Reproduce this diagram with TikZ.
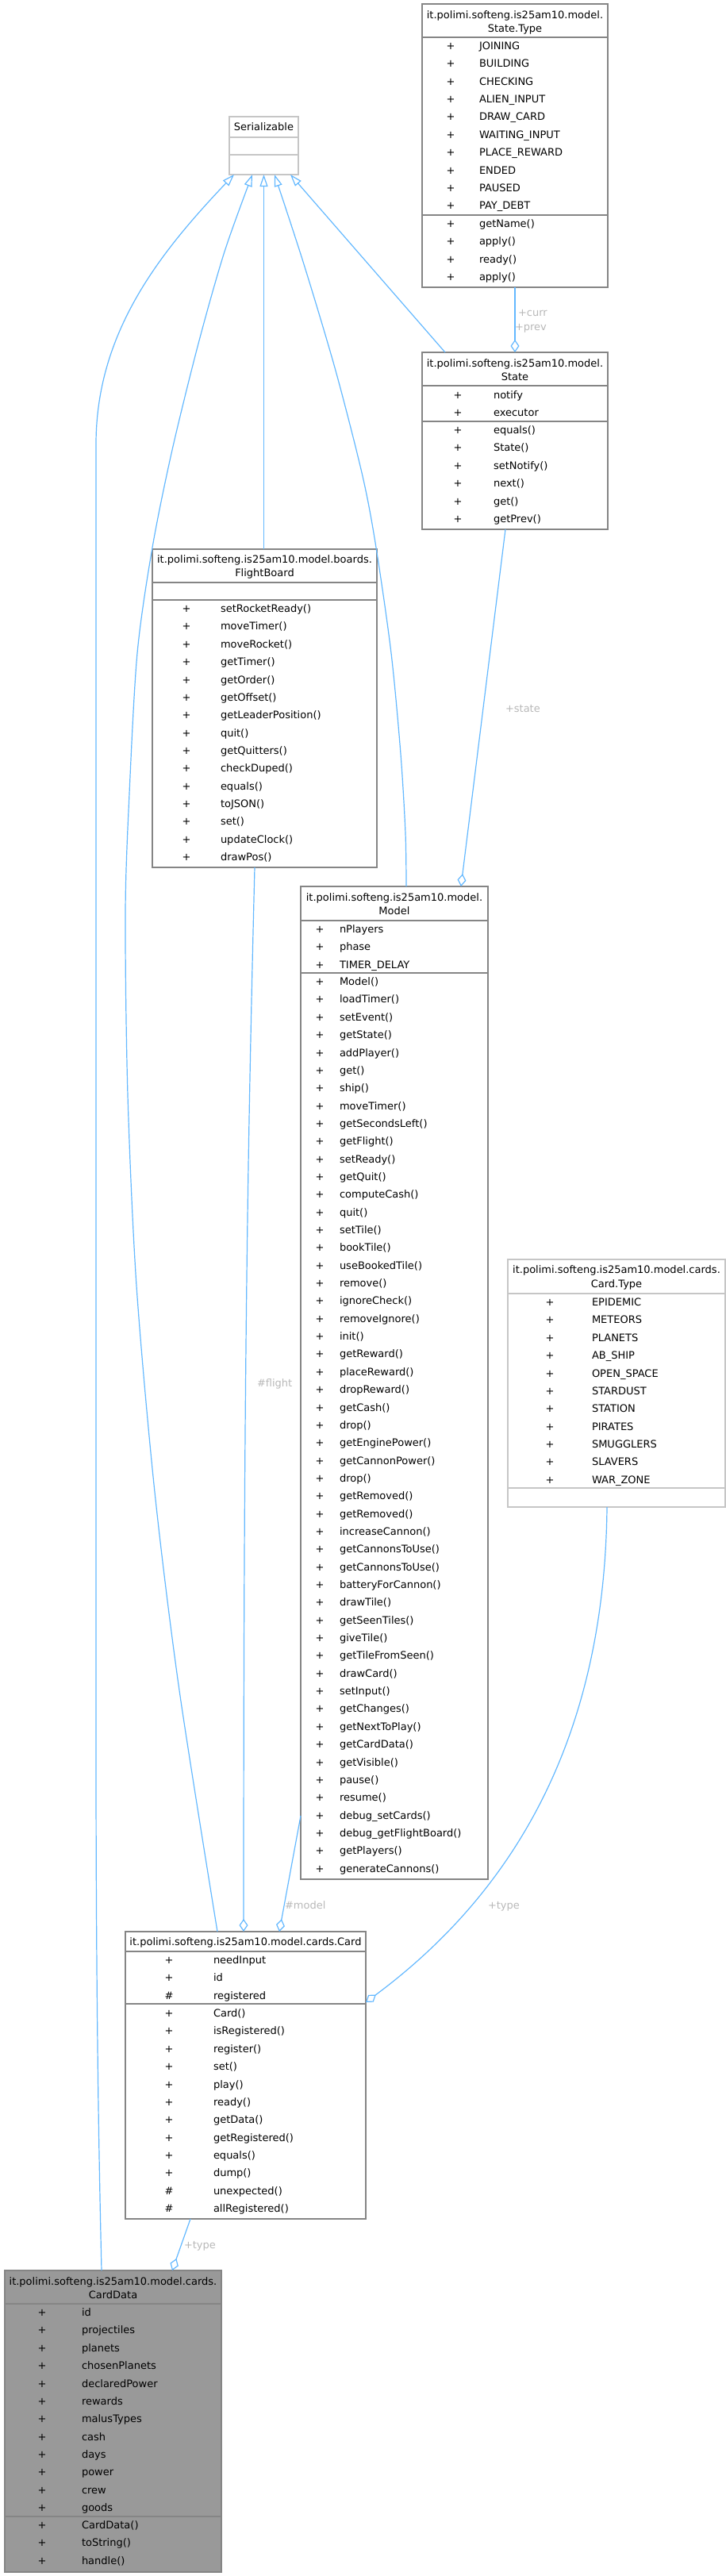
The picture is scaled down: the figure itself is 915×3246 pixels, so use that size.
\documentclass[tikz,border=0pt]{standalone}
\usepackage{fontspec}
\setmainfont{DejaVu Sans}
\usetikzlibrary{arrows.meta,calc}
\definecolor{edgeblue}{HTML}{63B8FF}
\definecolor{bordergray}{HTML}{858585}
\definecolor{lightborder}{HTML}{C6C6C6}
\definecolor{labelgray}{HTML}{B8B8B8}
\definecolor{focusfill}{HTML}{999999}
\tikzset{
  umlbox/.style={draw=bordergray, line width=1.6pt, fill=white, inner sep=0pt, outer sep=0pt, anchor=north west},
  extbox/.style={umlbox, draw=lightborder, line width=1.4pt},
  focusbox/.style={umlbox, fill=focusfill},
  sepline/.style={draw=bordergray, line width=1.6pt},
  lightsep/.style={draw=lightborder, line width=1.4pt},
  txt/.style={inner sep=0pt, outer sep=0pt, font=\fontsize{13}{15}\selectfont, text=black},
  lbl/.style={inner sep=0pt, outer sep=0pt, font=\fontsize{13}{15}\selectfont, text=labelgray, anchor=base west},
  inherit/.style={draw=edgeblue, line width=1.2pt, -{Triangle[open, length=15pt, width=10pt, fill=white]}},
  aggr/.style={draw=edgeblue, line width=1.2pt, -{Diamond[open, length=16pt, width=11pt, fill=white]}},
  plainedge/.style={draw=edgeblue, line width=1.2pt},
}
\newcommand\members[5]{%
  \foreach \vis/\nam [count=\i] in {#5} {
    \node[txt, anchor=base] (#1-v\i) at (#2, {#4+(\i-1)*22.35+4.6}) {\vis};
    \node[txt, anchor=base west] (#1-n\i) at (#3, {#4+(\i-1)*22.35+4.6}) {\nam};
  }%
}
\begin{document}
\begin{tikzpicture}[x=1pt, y=-1pt]
\useasboundingbox (0,0) rectangle (915,3246);

% ---------------- State.Type
\node[umlbox, minimum width=234pt, minimum height=357pt] (st) at (532,5) {};
\draw[sepline] (532,47) -- (766,47);
\draw[sepline] (532,271) -- (766,271);
\node[txt, anchor=base] (st-t1) at (649,23.6) {it.polimi.softeng.is25am10.model.};
\node[txt, anchor=base] (st-t2) at (649,40.6) {State.Type};
\members{st-a}{568}{604}{58}{+/JOINING,+/BUILDING,+/CHECKING,+/ALIEN\_INPUT,+/DRAW\_CARD,+/WAITING\_INPUT,+/PLACE\_REWARD,+/ENDED,+/PAUSED,+/PAY\_DEBT}
\members{st-m}{568}{604}{282}{+/getName(),+/apply(),+/ready(),+/apply()}

% ---------------- Serializable
\node[extbox, minimum width=87pt, minimum height=73pt] (ser) at (289,147) {};
\draw[lightsep] (289,173) -- (376,173);
\draw[lightsep] (289,195) -- (376,195);
\node[txt, anchor=base] (ser-t) at (332.5,164.6) {Serializable};

% ---------------- State
\node[umlbox, minimum width=234pt, minimum height=223pt] (state) at (532,444) {};
\draw[sepline] (532,486) -- (766,486);
\draw[sepline] (532,531) -- (766,531);
\node[txt, anchor=base] (state-t1) at (649,462.6) {it.polimi.softeng.is25am10.model.};
\node[txt, anchor=base] (state-t2) at (649,479.6) {State};
\members{state-a}{577}{622}{498}{+/notify,+/executor}
\members{state-m}{577}{622}{542}{+/equals(),+/State(),+/setNotify(),+/next(),+/get(),+/getPrev()}

% ---------------- FlightBoard
\node[umlbox, minimum width=283pt, minimum height=401pt] (fb) at (192,692) {};
\draw[sepline] (192,734) -- (475,734);
\draw[sepline] (192,756) -- (475,756);
\node[txt, anchor=base] (fb-t1) at (333.5,709.6) {it.polimi.softeng.is25am10.model.boards.};
\node[txt, anchor=base] (fb-t2) at (333.5,726.6) {FlightBoard};
\members{fb-m}{235}{278}{767}{+/setRocketReady(),+/moveTimer(),+/moveRocket(),+/getTimer(),+/getOrder(),+/getOffset(),+/getLeaderPosition(),+/quit(),+/getQuitters(),+/checkDuped(),+/equals(),+/toJSON(),+/set(),+/updateClock(),+/drawPos()}

% ---------------- Model
\node[umlbox, minimum width=236pt, minimum height=1251pt] (model) at (379,1117) {};
\draw[sepline] (379,1160) -- (615,1160);
\draw[sepline] (379,1226) -- (615,1226);
\node[txt, anchor=base] (model-t1) at (497,1135.6) {it.polimi.softeng.is25am10.model.};
\node[txt, anchor=base] (model-t2) at (497,1152.6) {Model};
\members{model-a}{403}{428}{1171}{+/nPlayers,+/phase,+/TIMER\_DELAY}
\members{model-m}{403}{428}{1237}{+/Model(),+/loadTimer(),+/setEvent(),+/getState(),+/addPlayer(),+/get(),+/ship(),+/moveTimer(),+/getSecondsLeft(),+/getFlight(),+/setReady(),+/getQuit(),+/computeCash(),+/quit(),+/setTile(),+/bookTile(),+/useBookedTile(),+/remove(),+/ignoreCheck(),+/removeIgnore(),+/init(),+/getReward(),+/placeReward(),+/dropReward(),+/getCash(),+/drop(),+/getEnginePower(),+/getCannonPower(),+/drop(),+/getRemoved(),+/getRemoved(),+/increaseCannon(),+/getCannonsToUse(),+/getCannonsToUse(),+/batteryForCannon(),+/drawTile(),+/getSeenTiles(),+/giveTile(),+/getTileFromSeen(),+/drawCard(),+/setInput(),+/getChanges(),+/getNextToPlay(),+/getCardData(),+/getVisible(),+/pause(),+/resume(),+/debug\_setCards(),+/debug\_getFlightBoard(),+/getPlayers(),+/generateCannons()}

% ---------------- Card.Type
\node[extbox, minimum width=274pt, minimum height=312pt] (ctype) at (640,1587) {};
\draw[lightsep] (640,1630) -- (914,1630);
\draw[lightsep] (640,1875) -- (914,1875);
\node[txt, anchor=base] (ctype-t1) at (777,1604.6) {it.polimi.softeng.is25am10.model.cards.};
\node[txt, anchor=base] (ctype-t2) at (777,1622.6) {Card.Type};
\members{ctype-a}{693}{746}{1641}{+/EPIDEMIC,+/METEORS,+/PLANETS,+/AB\_SHIP,+/OPEN\_SPACE,+/STARDUST,+/STATION,+/PIRATES,+/SMUGGLERS,+/SLAVERS,+/WAR\_ZONE}

% ---------------- Card
\node[umlbox, minimum width=303pt, minimum height=362pt] (card) at (158,2434) {};
\draw[sepline] (158,2459) -- (461,2459);
\draw[sepline] (158,2525) -- (461,2525);
\node[txt, anchor=base] (card-t) at (309.5,2451.6) {it.polimi.softeng.is25am10.model.cards.Card};
\members{card-a}{213}{269}{2470}{+/needInput,+/id,\#/registered}
\members{card-m}{213}{269}{2537}{+/Card(),+/isRegistered(),+/register(),+/set(),+/play(),+/ready(),+/getData(),+/getRegistered(),+/equals(),+/dump(),\#/unexpected(),\#/allRegistered()}

% ---------------- CardData
\node[focusbox, minimum width=273pt, minimum height=380pt] (cdata) at (6,2861) {};
\draw[sepline] (6,2903) -- (279,2903);
\draw[sepline] (6,3171) -- (279,3171);
\node[txt, anchor=base] (cdata-t1) at (142.5,2879.6) {it.polimi.softeng.is25am10.model.cards.};
\node[txt, anchor=base] (cdata-t2) at (142.5,2896.6) {CardData};
\members{cdata-a}{53}{103}{2914}{+/id,+/projectiles,+/planets,+/chosenPlanets,+/declaredPower,+/rewards,+/malusTypes,+/cash,+/days,+/power,+/crew,+/goods}
\members{cdata-m}{53}{103}{3182}{+/CardData(),+/toString(),+/handle()}

% ---------------- connector end points
\coordinate (e1s) at ($(cdata.north west)+(122,0)$);
\coordinate (e1t) at ($(ser.south west)+(6,0)$);
\coordinate (e2s) at ($(card.north west)+(116,0)$);
\coordinate (e2t) at ($(ser.south west)+(29,0)$);
\coordinate (e4s) at ($(model.north west)+(133,0)$);
\coordinate (e4t) at ($(ser.south west)+(57,0)$);
\coordinate (e5s) at ($(state.north west)+(29,0)$);
\coordinate (e5t) at ($(ser.south west)+(77,0)$);
\coordinate (e7s) at ($(state.south west)+(105,0)$);
\coordinate (e7t) at ($(model.north west)+(202,0)$);
\coordinate (e8s) at ($(fb.south west)+(129,0)$);
\coordinate (e8t) at ($(card.north west)+(149,0)$);
\coordinate (e9s) at ($(model.north west)+(0,1171)$);
\coordinate (e9t) at ($(card.north west)+(194,0)$);
\coordinate (e10s) at ($(ctype.south west)+(125,0)$);
\coordinate (e10t) at ($(card.north east)+(0,89)$);
\coordinate (e11s) at ($(card.south west)+(82,0)$);
\coordinate (e11t) at ($(cdata.north west)+(211,0)$);

% ---------------- inheritance
\draw[inherit] (e1s) .. controls (123,2650) and (121,2450) .. (121,2200) -- (121,560)
  .. controls (121,420) and (200,320) .. (e1t);
\draw[inherit] plot[smooth, tension=0.5] coordinates {(e2s) (226,2130) (195,1880) (172,1620) (161,1380) (158,1150) (163,1000) (173,823) (192,690) (217,567) (250,433) (283,317) (e2t)};
\draw[inherit] (fb.north -| ser.south) -- (ser.south);
\draw[inherit] plot[smooth, tension=0.5] coordinates {(e4s) (511,1050) (505,950) (493,823) (474,690) (457,600) (423,467) (383,333) (e4t)};
\draw[inherit] (e5s) -- (e5t);

% ---------------- aggregation
\draw[aggr] (st.south) -- (state.north);
\node[lbl] (l-curr) at (653,398.6) {+curr};
\node[lbl] (l-prev) at (649,416.6) {+prev};
\draw[aggr] (e7s) -- (e7t);
\node[lbl] (l-state) at (637,897.6) {+state};
\draw[aggr] (e8s) .. controls (312,1450) and (307,1750) .. (e8t);
\node[lbl] (l-flight) at (324,1747.6) {\#flight};
\draw[aggr] (e9s) -- (e9t);
\node[lbl] (l-model) at (359,2405.6) {\#model};
\draw[aggr] (e10s) .. controls (762,2200) and (640,2390) .. (e10t);
\node[lbl] (l-type1) at (615,2405.6) {+type};
\draw[aggr] (e11s) -- (e11t);
\node[lbl] (l-type2) at (232,2833.6) {+type};
\end{tikzpicture}
\end{document}
